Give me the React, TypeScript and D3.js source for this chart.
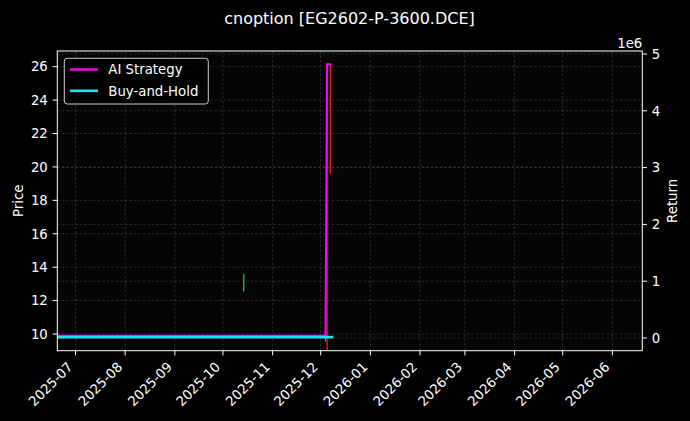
import React, { useEffect, useRef } from 'react';
import * as d3 from 'd3';

// axis ticks
const priceTicks = [10, 12, 14, 16, 18, 20, 22, 24, 26];
const returnTicks = [0, 1, 2, 3, 4, 5]; // x 1e6
const monthLabels = [
  "2025-07", "2025-08", "2025-09", "2025-10", "2025-11", "2025-12",
  "2026-01", "2026-02", "2026-03", "2026-04", "2026-05", "2026-06",
];

// price bars (drawn as high-low sticks)
const candleDates = ["2025-10-14", "2025-12-04", "2025-12-05", "2025-12-07"];
const candleLow = [12.54, 9.55, 9.0, 19.6];
const candleHigh = [13.58, 9.9, 26.12, 26.12];
const candleUp = [true, true, false, false];

// return curves
const strategyDates = ["2025-06-20", "2025-09-01", "2025-12-04", "2025-12-05", "2025-12-07"];
const strategyValues = [40000, 40000, 40000, 4820000, 4820000];
const holdDates = ["2025-06-20", "2025-09-01", "2025-12-04", "2025-12-08"];
const holdValues = [16000, 16000, 16000, 16000];

const W = 690;
const H = 421;
const FONT = "DejaVu Sans, sans-serif";

export default function App() {
  const svgRef = useRef<SVGSVGElement>(null);

  useEffect(() => {
    if (!svgRef.current) return;
    const svg = d3.select(svgRef.current);
    svg.selectAll("*").remove();

    const left = 57.3, right = 642.3, top = 51, bottom = 350.7;

    const x = d3.scaleUtc()
      .domain([new Date(Date.UTC(2025, 5, 19, 15, 20)), new Date(Date.UTC(2026, 5, 19, 16, 20))])
      .range([left, right]);
    const yPrice = d3.scaleLinear().domain([9.0, 26.94]).range([bottom, top]);
    const yRet = d3.scaleLinear().domain([-223600, 5053000]).range([bottom, top]);
    const parse = (s: string) => new Date(s + "T00:00:00Z");

    svg.append("rect").attr("width", W).attr("height", H).attr("fill", "#000");
    svg.append("rect")
      .attr("x", left).attr("y", top)
      .attr("width", right - left).attr("height", bottom - top)
      .attr("fill", "#050505");

    const monthDates = monthLabels.map(m => parse(m + "-01"));

    // grid
    const grid = svg.append("g")
      .attr("stroke", "#a0a0a0")
      .attr("stroke-opacity", 0.4)
      .attr("stroke-width", 0.6)
      .attr("stroke-dasharray", "2.5,2");
    grid.selectAll(".vx").data(monthDates).enter().append("line")
      .attr("x1", d => x(d)).attr("x2", d => x(d))
      .attr("y1", top).attr("y2", bottom);
    grid.selectAll(".hp").data(priceTicks).enter().append("line")
      .attr("x1", left).attr("x2", right)
      .attr("y1", d => yPrice(d)).attr("y2", d => yPrice(d));
    grid.selectAll(".hr").data(returnTicks).enter().append("line")
      .attr("x1", left).attr("x2", right)
      .attr("y1", d => yRet(d * 1e6)).attr("y2", d => yRet(d * 1e6));

    const plot = svg.append("g");
    plot.append("clipPath").attr("id", "clip")
      .append("rect").attr("x", left).attr("y", top)
      .attr("width", right - left).attr("height", bottom - top);
    const inner = plot.append("g").attr("clip-path", "url(#clip)");

    // price sticks
    inner.selectAll(".candle")
      .data(candleDates.map((d, i) => ({ date: parse(d), lo: candleLow[i], hi: candleHigh[i], up: candleUp[i] })))
      .enter().append("line")
      .attr("x1", d => x(d.date)).attr("x2", d => x(d.date))
      .attr("y1", d => yPrice(d.lo)).attr("y2", d => yPrice(d.hi))
      .attr("stroke", d => d.up ? "#2cbf2c" : "#e4201c")
      .attr("stroke-width", 1.3);

    const line = d3.line<[Date, number]>()
      .x(d => x(d[0]))
      .y(d => yRet(d[1]));

    inner.append("path")
      .attr("d", line(strategyDates.map((d, i) => [parse(d), strategyValues[i]] as [Date, number])))
      .attr("fill", "none")
      .attr("stroke", "#ff00ff")
      .attr("stroke-width", 2)
      .attr("stroke-linecap", "square");

    inner.append("path")
      .attr("d", line(holdDates.map((d, i) => [parse(d), holdValues[i]] as [Date, number])))
      .attr("fill", "none")
      .attr("stroke", "#1fe0ee")
      .attr("stroke-width", 2.6)
      .attr("stroke-linecap", "square");

    // spines
    svg.append("rect")
      .attr("x", left).attr("y", top)
      .attr("width", right - left).attr("height", bottom - top)
      .attr("fill", "none").attr("stroke", "#fff").attr("stroke-width", 1);

    // left axis
    const la = svg.append("g");
    la.selectAll("line").data(priceTicks).enter().append("line")
      .attr("x1", left - 4.7).attr("x2", left)
      .attr("y1", d => yPrice(d)).attr("y2", d => yPrice(d))
      .attr("stroke", "#fff").attr("stroke-width", 1);
    la.selectAll("text").data(priceTicks).enter().append("text")
      .attr("x", left - 9.5).attr("y", d => yPrice(d))
      .attr("dy", "0.36em")
      .attr("text-anchor", "end")
      .attr("font-family", FONT).attr("font-size", 13.3).attr("fill", "#fff")
      .text(d => d);

    // right axis
    const ra = svg.append("g");
    ra.selectAll("line").data(returnTicks).enter().append("line")
      .attr("x1", right).attr("x2", right + 4.7)
      .attr("y1", d => yRet(d * 1e6)).attr("y2", d => yRet(d * 1e6))
      .attr("stroke", "#fff").attr("stroke-width", 1);
    ra.selectAll("text").data(returnTicks).enter().append("text")
      .attr("x", right + 9.5).attr("y", d => yRet(d * 1e6))
      .attr("dy", "0.36em")
      .attr("font-family", FONT).attr("font-size", 13.3).attr("fill", "#fff")
      .text(d => d);
    svg.append("text")
      .attr("x", right).attr("y", 48)
      .attr("text-anchor", "end")
      .attr("font-family", FONT).attr("font-size", 13.3).attr("fill", "#fff")
      .text("1e6");

    // bottom axis
    const ba = svg.append("g");
    ba.selectAll("line").data(monthDates).enter().append("line")
      .attr("x1", d => x(d)).attr("x2", d => x(d))
      .attr("y1", bottom).attr("y2", bottom + 4.7)
      .attr("stroke", "#fff").attr("stroke-width", 1);
    ba.selectAll("text").data(monthDates).enter().append("text")
      .attr("transform", d => `translate(${x(d) - 2},${bottom + 17}) rotate(-45)`)
      .attr("text-anchor", "end")
      .attr("font-family", FONT).attr("font-size", 13.3).attr("fill", "#fff")
      .text((d, i) => monthLabels[i]);

    // axis labels and title
    svg.append("text")
      .attr("transform", `translate(23,${(top + bottom) / 2}) rotate(-90)`)
      .attr("text-anchor", "middle")
      .attr("font-family", FONT).attr("font-size", 13.3).attr("fill", "#fff")
      .text("Price");
    svg.append("text")
      .attr("transform", `translate(676.8,${(top + bottom) / 2}) rotate(-90)`)
      .attr("text-anchor", "middle")
      .attr("font-family", FONT).attr("font-size", 13.3).attr("fill", "#fff")
      .text("Return");
    svg.append("text")
      .attr("x", 349.5).attr("y", 23.5)
      .attr("text-anchor", "middle")
      .attr("font-family", FONT).attr("font-size", 16).attr("fill", "#fff")
      .text("cnoption [EG2602-P-3600.DCE]");

    // legend
    const lg = svg.append("g");
    lg.append("rect")
      .attr("x", 64.3).attr("y", 58.3).attr("width", 144).attr("height", 45.7)
      .attr("rx", 3).attr("fill", "#000").attr("fill-opacity", 0.8)
      .attr("stroke", "#cccccc").attr("stroke-width", 1);
    const entries = [
      { label: "AI Strategy", color: "#ff00ff", w: 2.4 },
      { label: "Buy-and-Hold", color: "#1fe0ee", w: 2.6 },
    ];
    const row = lg.selectAll(".entry").data(entries).enter().append("g")
      .attr("transform", (d, i) => `translate(0,${69.5 + i * 21.3})`);
    row.append("line")
      .attr("x1", 70).attr("x2", 98).attr("y1", 0).attr("y2", 0)
      .attr("stroke", d => d.color).attr("stroke-width", d => d.w);
    row.append("text")
      .attr("x", 108.3).attr("y", 0).attr("dy", "0.36em")
      .attr("font-family", FONT).attr("font-size", 13.3).attr("fill", "#fff")
      .text(d => d.label);
  }, []);

  return (
    <div style={{ position: "fixed", left: 0, top: 0, width: W, height: H, background: "#000" }}>
      <svg ref={svgRef} width={W} height={H} style={{ display: "block" }} />
    </div>
  );
}
